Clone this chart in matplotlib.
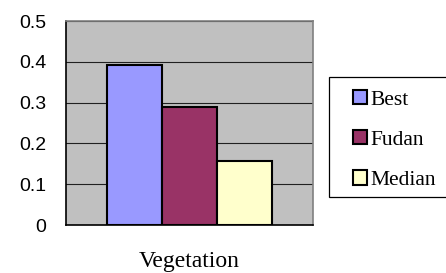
import matplotlib

matplotlib.use('Agg')
import matplotlib.pyplot as plt
from matplotlib.patches import Rectangle, Patch
import numpy as np

category = 'Vegetation'
series_names = ['Best', 'Fudan', 'Median']
values = [0.392, 0.29, 0.157]
colors = ['#9999FF', '#993366', '#FFFFCC']
y_ticks = [0, 0.1, 0.2, 0.3, 0.4, 0.5]
y_tick_labels = ['0', '0.1', '0.2', '0.3', '0.4', '0.5']

W, H = 446, 273
fig = plt.figure(figsize=(W / 100, H / 100), dpi=100)
ax = fig.add_axes([66 / W, 1 - 225 / H, (313 - 66) / W, (225 - 21) / H])
ax.set_facecolor('#C0C0C0')

x = np.arange(len(values))
ax.bar(x, values, width=1.0, color=colors, edgecolor='black', linewidth=1.5, zorder=3)

ax.set_ylim(0, 0.5)
ax.set_xlim(-1.24, 3.24)
ax.set_yticks(y_ticks)
ax.set_yticklabels(y_tick_labels, fontfamily='Liberation Sans', fontsize=14)
ax.yaxis.grid(True, color='#202020', linewidth=0.8, zorder=1)
ax.tick_params(axis='y', length=0, pad=14)
ax.set_xticks([])
ax.set_xlabel(category, fontfamily='Liberation Serif', fontsize=17, labelpad=19)

ax.spines['left'].set_color('black')
ax.spines['bottom'].set_color('black')
ax.spines['top'].set_color('#808080')
ax.spines['right'].set_color('#808080')
for s in ax.spines.values():
    s.set_linewidth(1.2)

# legend frame drawn by hand, it runs off the right edge
fig.patches.append(Rectangle((329 / W, 1 - 197 / H), (460 - 329) / W, (197 - 77) / H,
                             transform=fig.transFigure, facecolor='white',
                             edgecolor='black', linewidth=0.9))
handles = [Patch(facecolor=c, edgecolor='black', linewidth=1.5) for c in colors]
fig.legend(handles, series_names, loc='upper left',
           bbox_to_anchor=(342 / W, 1 - 79 / H), frameon=False,
           prop={'family': 'Liberation Serif', 'size': 15.5},
           handlelength=0.65, handleheight=0.65, handletextpad=0.15,
           labelspacing=0.95, borderpad=0)

fig.savefig('out.png', dpi=100)
